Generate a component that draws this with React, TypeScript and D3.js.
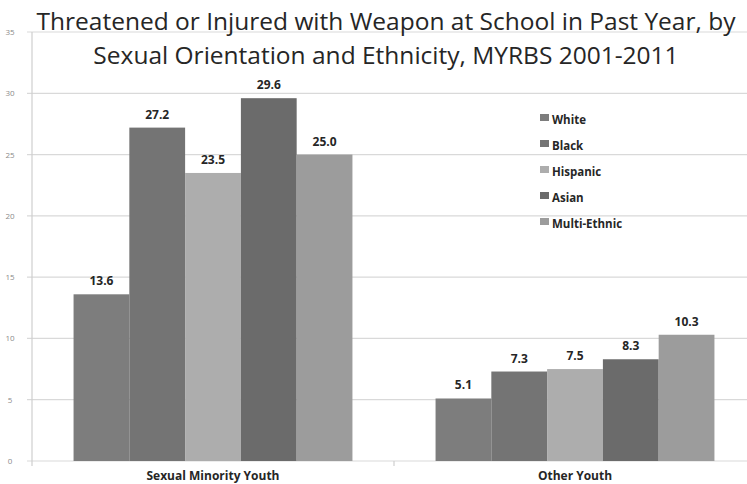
import React from "react";
import * as d3 from "d3";

const groups = ["Sexual Minority Youth", "Other Youth"];
const ethnicities = ["White", "Black", "Hispanic", "Asian", "Multi-Ethnic"];
const sexualMinority = [13.6, 27.2, 23.5, 29.6, 25.0];
const otherYouth = [5.1, 7.3, 7.5, 8.3, 10.3];
const colors = ["#7d7d7d", "#747474", "#adadad", "#6b6b6b", "#9c9c9c"];
const yTicks = [0, 5, 10, 15, 20, 25, 30, 35];
const titleLines = [
  "Threatened or Injured with Weapon at School in Past Year, by",
  "Sexual Orientation and Ethnicity, MYRBS 2001-2011",
];

const W = 747;
const H = 484;
const left = 32;
const right = 756;
const top = 32;
const bottom = 461;

export default function App() {
  const series = [sexualMinority, otherYouth];
  const x0 = d3.scaleBand<string>().domain(groups).range([left, right]).paddingInner(0).paddingOuter(0);
  const x1 = d3
    .scaleBand<string>()
    .domain(ethnicities)
    .range([0, x0.bandwidth()])
    .paddingOuter(0.745)
    .paddingInner(0);
  const y = d3.scaleLinear().domain([0, 35]).range([bottom, top]);
  const font = "'Open Sans', 'Liberation Sans', sans-serif";

  return (
    <svg
      width={W}
      height={H}
      style={{ position: "absolute", left: 0, top: 0, background: "#fff" }}
    >
      {yTicks.map((t) => (
        <g key={t}>
          <line x1={left - 5} x2={W} y1={y(t)} y2={y(t)} stroke="#d9d9d9" strokeWidth={1.2} />
          <text x={left - 22} y={y(t) + 3} fontSize={8} fill="#8a8a8a" fontFamily={font} textAnchor="middle">
            {t}
          </text>
        </g>
      ))}
      <line x1={left} x2={left} y1={top} y2={bottom + 5} stroke="#cfcfcf" strokeWidth={1.2} />
      <line x1={x0(groups[1])} x2={x0(groups[1])} y1={bottom} y2={bottom + 5} stroke="#cfcfcf" strokeWidth={1.2} />
      {groups.map((g, gi) => (
        <g key={g}>
          {ethnicities.map((e, i) => {
            const v = series[gi][i];
            const bx = (x0(g) as number) + (x1(e) as number);
            return (
              <g key={e}>
                <rect x={bx} y={y(v)} width={x1.bandwidth()} height={bottom - y(v)} fill={colors[i]} />
                <text
                  x={bx + x1.bandwidth() / 2}
                  y={y(v) - 9}
                  fontSize={12}
                  fontWeight="bold"
                  fill="#262626"
                  textAnchor="middle"
                  fontFamily={font}
                >
                  {v.toFixed(1)}
                </text>
              </g>
            );
          })}
          <text
            x={(x0(g) as number) + x0.bandwidth() / 2}
            y={480}
            fontSize={12}
            fontWeight="bold"
            fill="#262626"
            textAnchor="middle"
            fontFamily={font}
          >
            {g}
          </text>
        </g>
      ))}
      {ethnicities.map((e, i) => (
        <g key={e} transform={`translate(540, ${119 + i * 26})`}>
          <rect x={0} y={-5} width={9} height={7} fill={colors[i]} />
          <text x={12} y={2} fontSize={11.5} fontWeight="bold" fill="#262626" fontFamily={font} dominantBaseline="middle">
            {e}
          </text>
        </g>
      ))}
      {titleLines.map((l, i) => (
        <text
          key={i}
          x={386}
          y={30 + i * 34}
          fontSize={24.5}
          fill="#262626"
          textAnchor="middle"
          fontFamily={font}
        >
          {l}
        </text>
      ))}
    </svg>
  );
}
